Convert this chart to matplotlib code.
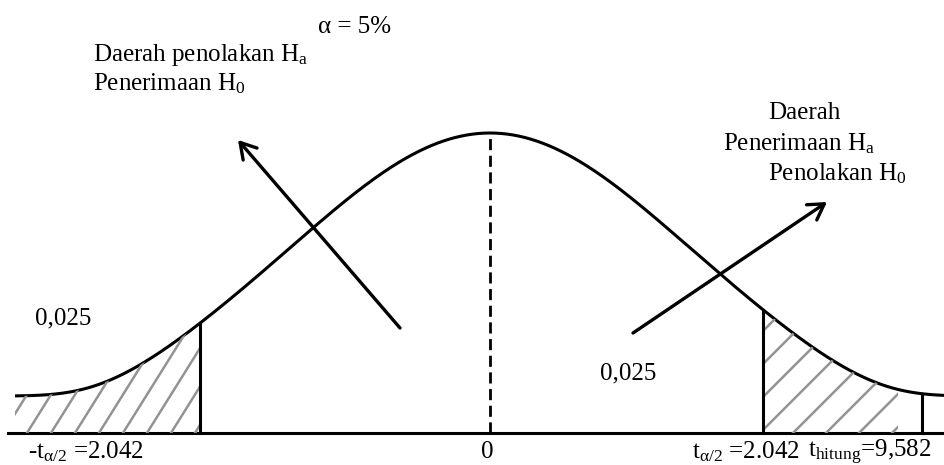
import numpy as np
import matplotlib
matplotlib.use("Agg")
import matplotlib.pyplot as plt
from matplotlib.patches import Polygon

plt.rcParams['font.family'] = ['Liberation Serif', 'DejaVu Serif']
plt.rcParams['mathtext.fontset'] = 'custom'
plt.rcParams['mathtext.rm'] = 'Liberation Serif'
plt.rcParams['mathtext.it'] = 'Liberation Serif:italic'

# ---- data (schematic drawing in pixel space) ----
alpha_label = "α = 5%"
tail_area = ["0,025", "0,025"]
crit_labels = ["-t$_{\\mathrm{α/2}}$ =2.042", "0", "t$_{\\mathrm{α/2}}$ =2.042", "t$_{\\mathrm{hitung}}$=9,582"]
crit_x = [200, 490, 763, 922]
left_region = ["Daerah penolakan H$_{\\mathrm{a}}$", "Penerimaan H$_{0}$"]
right_region = ["Daerah", "Penerimaan H$_{\\mathrm{a}}$", "Penolakan H$_{0}$"]

# curve shape parameters
center, peak_y, base_y = 490, 133, 396
core_w, tail_w = 265, 394
baseline_y = 433

def curve(x):
    d = np.abs(x - center)
    return base_y - (base_y - peak_y) * np.exp(-(d / core_w) ** 2 - (d / tail_w) ** 8)

fig = plt.figure(figsize=(9.45, 4.65), dpi=100)
ax = fig.add_axes([0, 0, 1, 1])
ax.set_xlim(0, 945)
ax.set_ylim(465, 0)
ax.axis('off')

xs = np.linspace(15, 945, 800)
ax.plot(xs, curve(xs), color='black', lw=2.2, solid_capstyle='butt')
ax.plot([8, 945], [baseline_y, baseline_y], color='black', lw=2.2)

# hatched tails
def hatch(x0, x1, angle_deg, spacing):
    px = np.linspace(x0, x1, 200)
    verts = np.vstack([np.column_stack([px, curve(px)]), [[x1, baseline_y], [x0, baseline_y]]])
    poly = Polygon(verts, closed=True, facecolor='none', edgecolor='none')
    ax.add_patch(poly)
    slope = np.tan(np.radians(angle_deg))
    H = 200
    for b in np.arange(x0 - 300, x1 + 50, spacing):
        ln, = ax.plot([b, b + H / slope], [baseline_y, baseline_y - H], color='#939393', lw=1.8)
        ln.set_clip_path(poly)

hatch(15, crit_x[0], 58, 24)
hatch(crit_x[2], 898, 45, 33)

# vertical lines
for xv in [crit_x[0], crit_x[2], crit_x[3]]:
    ax.plot([xv, xv], [baseline_y, curve(xv)], color='black', lw=2.2)
ax.plot([crit_x[1], crit_x[1]], [baseline_y, peak_y], color='black', lw=2, dashes=(4, 2))

# arrows
ap = dict(arrowstyle='->,head_length=0.5,head_width=0.3', color='black', lw=2.4,
          mutation_scale=22, shrinkA=0, shrinkB=0)
ax.annotate('', xy=(238, 140), xytext=(400, 328), arrowprops=ap)
ax.annotate('', xy=(827, 202), xytext=(633, 333), arrowprops=ap)

fs = 18
ax.text(318, 27, alpha_label, fontsize=fs, va='center', ha='left')
ax.text(93, 55, left_region[0], fontsize=fs, va='center', ha='left')
ax.text(93, 84, left_region[1], fontsize=fs, va='center', ha='left')
ax.text(768, 113, right_region[0], fontsize=fs, va='center', ha='left')
ax.text(723, 144, right_region[1], fontsize=fs, va='center', ha='left')
ax.text(768, 174, right_region[2], fontsize=fs, va='center', ha='left')
ax.text(35, 318, tail_area[0], fontsize=fs, va='center', ha='left')
ax.text(600, 373, tail_area[1], fontsize=fs, va='center', ha='left')

ax.text(28, 452, crit_labels[0], fontsize=fs, va='center', ha='left')
ax.text(crit_x[1] - 3, 452, crit_labels[1], fontsize=fs, va='center', ha='center')
ax.text(692, 452, crit_labels[2], fontsize=fs, va='center', ha='left')
ax.text(808, 452, crit_labels[3], fontsize=fs, va='center', ha='left')

fig.savefig('out.png', dpi=100)
